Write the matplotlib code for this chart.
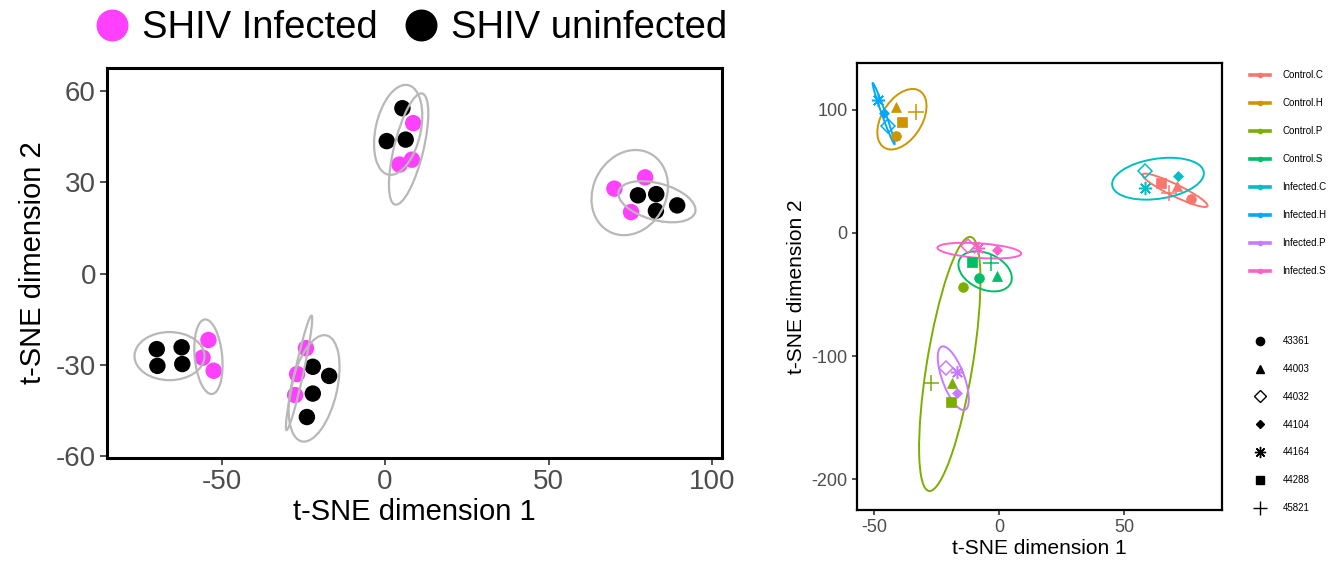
#!/usr/bin/env python3
# t-SNE of SHIV samples: infection status (left) and group x animal (right).
import matplotlib
matplotlib.use('Agg')
import matplotlib.pyplot as plt
from matplotlib.lines import Line2D
from matplotlib.patches import Ellipse

plt.rcParams['font.family'] = ['Liberation Sans', 'DejaVu Sans']
plt.rcParams['axes.unicode_minus'] = False

# ---- left panel: samples coloured by infection status ----
infected_x = [-54.0, -55.8, -52.4, -24.2, -26.9, -27.5, 8.6, 8.2, 4.4, 70.1, 79.5, 75.2]
infected_y = [-21.8, -27.6, -31.9, -24.5, -33.0, -39.9, 49.4, 37.4, 35.8, 27.9, 31.6, 20.2]
uninfected_x = [-69.8, -62.2, -69.6, -62.0, -22.1, -17.1, -22.1, -23.9,
                5.3, 0.5, 6.3, 77.3, 82.9, 82.8, 89.3]
uninfected_y = [-24.8, -24.2, -30.3, -29.7, -30.6, -33.6, -39.4, -47.1,
                54.3, 43.5, 44.0, 25.7, 26.1, 20.6, 22.4]

# ellipses: centre, semi-axes, angle (deg)
status_ell_cx = [-65.9, -54.0, -26.3, -21.7, 4.0, 7.2, 74.8, 83.1]
status_ell_cy = [-27.1, -27.3, -32.6, -37.7, 47.2, 40.9, 26.6, 23.6]
status_ell_a = [10.7, 12.3, 19.2, 17.8, 15.0, 18.7, 14.3, 12.2]
status_ell_b = [7.9, 4.2, 1.3, 7.0, 6.9, 4.5, 11.3, 6.0]
status_ell_ang = [0, 95, 78.5, 78, 78.7, 77.3, 70, -17]

status_labels = ['SHIV Infected', 'SHIV uninfected']
status_colors = ['#FF40FF', '#000000']

# ---- right panel: group (status.tissue) x animal ----
group_names = ['Control.C', 'Control.H', 'Control.P', 'Control.S',
               'Infected.C', 'Infected.H', 'Infected.P', 'Infected.S']
group_colors = ['#F8766D', '#CD9600', '#7CAE00', '#00BE67',
                '#00BFC4', '#00A9FF', '#C77CFF', '#FF61CC']
animal_ids = ['43361', '44003', '44032', '44104', '44164', '44288', '45821']

pt_group = (['Control.C'] * 4 + ['Control.H'] * 4 + ['Control.P'] * 4 + ['Control.S'] * 4
            + ['Infected.C'] * 3 + ['Infected.H'] * 3 + ['Infected.P'] * 3 + ['Infected.S'] * 3)
pt_animal = ['44288', '44003', '43361', '45821',
             '44003', '45821', '44288', '43361',
             '43361', '45821', '44003', '44288',
             '44288', '45821', '43361', '44003',
             '44032', '44104', '44164',
             '44164', '44104', '44032',
             '44032', '44164', '44104',
             '44032', '44164', '44104']
pt_x = [64.8, 71.0, 76.6, 67.9,
        -41.3, -33.0, -38.6, -41.0,
        -14.3, -27.0, -18.7, -19.4,
        -11.0, -3.3, -8.0, -0.9,
        58.3, 71.5, 58.2,
        -48.4, -46.1, -44.4,
        -21.3, -16.7, -16.7,
        -12.3, -8.3, -0.7]
pt_y = [40.7, 38.0, 27.7, 32.6,
        102.3, 98.2, 90.4, 78.7,
        -44.2, -121.6, -122.1, -137.0,
        -23.9, -24.4, -36.6, -35.3,
        50.2, 46.1, 36.6,
        108.0, 97.7, 86.8,
        -109.9, -113.2, -130.3,
        -10.9, -12.2, -13.6]

# per-group ellipses, same order as group_names
group_ell_cx = [70.2, -38.8, -19.7, -5.6, 63.4, -46.1, -18.3, -7.9]
group_ell_cy = [34.6, 92.3, -106.4, -31.2, 44.0, 96.9, -118.0, -14.4]
group_ell_a = [18.4, 25.0, 103.5, 16.9, 19.9, 25.2, 26.2, 16.9]
group_ell_b = [3.8, 8.7, 9.2, 9.7, 15.1, 0.8, 4.6, 5.9]
group_ell_ang = [-46.3, 78.8, 85.5, 108.7, 37.0, 99.9, 99.3, -9.0]

# marker, filled, size for each animal (ggplot shapes 16, 17, 5, 18, 8, 15, 3)
SHAPES = {
    '43361': ('o', True, 7.0),
    '44003': ('^', True, 7.5),
    '44032': ('D', False, 7.0),
    '44104': ('D', True, 5.0),
    '44164': ((8, 2, 0), False, 9.5),
    '44288': ('s', True, 7.0),
    '45821': ('+', False, 11.5),
}

TICK_GRAY = '#4D4D4D'


def style_frame(ax, lw, tick_len, label_size):
    for spine in ax.spines.values():
        spine.set_linewidth(lw)
        spine.set_color('black')
    ax.tick_params(direction='out', length=tick_len, width=1.2, color='#333333',
                   labelsize=label_size, labelcolor=TICK_GRAY, pad=3)


def draw_marker(ax, x, y, animal, color):
    marker, filled, size = SHAPES[animal]
    ax.plot([x], [y], linestyle='none', marker=marker, markersize=size,
            markerfacecolor=color if filled else 'none',
            markeredgecolor=color, markeredgewidth=1.1 if not filled else 0.5,
            zorder=3)


def plot_status(ax):
    for cx, cy, a, b, ang in zip(status_ell_cx, status_ell_cy, status_ell_a,
                                 status_ell_b, status_ell_ang):
        ax.add_patch(Ellipse((cx, cy), 2 * a, 2 * b, angle=ang, fill=False,
                             edgecolor='#B8B8B8', linewidth=1.6, zorder=4))
    ax.scatter(infected_x, infected_y, s=140, color=status_colors[0],
               edgecolors='none', zorder=3)
    ax.scatter(uninfected_x, uninfected_y, s=140, color=status_colors[1],
               edgecolors='none', zorder=3)
    ax.set_xlim(-85, 103)
    ax.set_ylim(-60.6, 67.5)
    ax.set_xticks([-50, 0, 50, 100])
    ax.set_yticks([-60, -30, 0, 30, 60])
    ax.set_xlabel('t-SNE dimension 1', fontsize=21, labelpad=2)
    ax.set_ylabel('t-SNE dimension 2', fontsize=21, labelpad=6)
    style_frame(ax, lw=2.2, tick_len=5, label_size=20)


def plot_groups(ax):
    color_of = dict(zip(group_names, group_colors))
    for name, cx, cy, a, b, ang in zip(group_names, group_ell_cx, group_ell_cy,
                                       group_ell_a, group_ell_b, group_ell_ang):
        ax.add_patch(Ellipse((cx, cy), 2 * a, 2 * b, angle=ang, fill=False,
                             edgecolor=color_of[name], linewidth=1.4, zorder=2))
    for g, animal, x, y in zip(pt_group, pt_animal, pt_x, pt_y):
        draw_marker(ax, x, y, animal, color_of[g])
    ax.set_xlim(-56.8, 89.0)
    ax.set_ylim(-225.0, 138.0)
    ax.set_xticks([-50, 0, 50])
    ax.set_yticks([-200, -100, 0, 100])
    ax.set_xlabel('t-SNE dimension 1', fontsize=15, labelpad=2)
    ax.set_ylabel('t-SNE dimension 2', fontsize=15, labelpad=4)
    style_frame(ax, lw=1.6, tick_len=3.5, label_size=13)


def main():
    fig = plt.figure(figsize=(13.43, 5.67), dpi=100)
    ax_l = fig.add_axes([0.0797, 0.192, 0.4579, 0.688])
    ax_r = fig.add_axes([0.638, 0.1005, 0.272, 0.7885])
    plot_status(ax_l)
    plot_groups(ax_r)

    status_handles = [Line2D([], [], linestyle='none', marker='o', markersize=22,
                             markerfacecolor=c, markeredgecolor=c)
                      for c in status_colors]
    fig.legend(status_handles, status_labels, loc='upper left', ncol=2,
               bbox_to_anchor=(0.0675, 0.985), frameon=False, fontsize=27.5,
               handlelength=1.0, handletextpad=0.3, columnspacing=0.62,
               borderpad=0.05, borderaxespad=0)

    group_handles = [Line2D([], [], color=c, linewidth=2.6, marker='o', markersize=3)
                     for c in group_colors]
    fig.legend(group_handles, group_names, loc='upper left',
               bbox_to_anchor=(0.931, 0.876), frameon=False, fontsize=7,
               handlelength=2.0, handletextpad=1.3, labelspacing=1.85,
               borderpad=0, borderaxespad=0)

    shape_handles = []
    for animal in animal_ids:
        marker, filled, size = SHAPES[animal]
        shape_handles.append(Line2D([], [], linestyle='none', marker=marker,
                                    markersize=size * 0.85,
                                    markerfacecolor='black' if filled else 'none',
                                    markeredgecolor='black', markeredgewidth=1.0))
    fig.legend(shape_handles, animal_ids, loc='upper left',
               bbox_to_anchor=(0.931, 0.407), frameon=False, fontsize=7,
               handlelength=2.0, handletextpad=1.3, labelspacing=1.83,
               borderpad=0, borderaxespad=0)

    fig.savefig('out.png', dpi=100)
    plt.close(fig)


if __name__ == '__main__':
    main()
